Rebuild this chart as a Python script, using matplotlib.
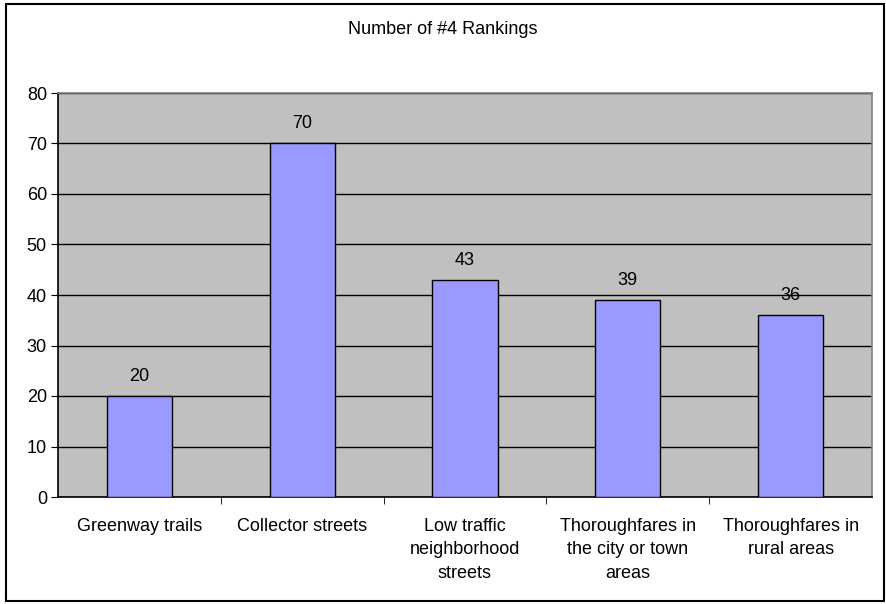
import numpy as np
import matplotlib.pyplot as plt

plt.rcParams['font.family'] = ['Liberation Sans', 'DejaVu Sans']

# Datos
categories = ['Greenway trails', 'Collector streets',
              'Low traffic\nneighborhood\nstreets',
              'Thoroughfares in\nthe city or town\nareas',
              'Thoroughfares in\nrural areas']
counts = [20, 70, 43, 39, 36]
title = 'Number of #4 Rankings'

fig = plt.figure(figsize=(8.86, 6.04), dpi=100)
W, H = 886, 604
ax = fig.add_axes([58 / W, 1 - 497 / H, (872 - 58) / W, (497 - 93) / H])

# borde de la figura
fig.patches.append(plt.Rectangle((6 / W, 3 / H), (884 - 6) / W, (600 - 3) / H,
                                 transform=fig.transFigure, fill=False,
                                 edgecolor='black', linewidth=1.5))

x = np.arange(len(categories))
ax.set_facecolor('#C0C0C0')
ax.bar(x, counts, width=0.4, color='#9999FF', edgecolor='black', linewidth=1, zorder=3)

for xi, v in zip(x, counts):
    ax.annotate(str(v), (xi, v), xytext=(0, 8), textcoords='offset points',
                ha='center', va='bottom', fontsize=13)

ax.set_xlim(-0.5, len(categories) - 0.5)
ax.set_ylim(0, 80)
ax.set_yticks(np.arange(0, 81, 10))
ax.yaxis.grid(True, color='black', linewidth=1, zorder=1)
ax.set_axisbelow(True)

ax.set_xticks(x)
ax.set_xticklabels(categories, fontsize=13, linespacing=1.5, va='top')
ax.tick_params(axis='x', length=0, pad=15)
ax.set_xticks(np.arange(0.5, len(categories) - 0.5), minor=True)
ax.tick_params(axis='x', which='minor', length=5, direction='out', color='black')
ax.tick_params(axis='y', labelsize=13, length=5, direction='out', pad=3)

ax.spines['top'].set_color('#808080')
ax.spines['right'].set_color('#808080')
ax.spines['left'].set_color('black')
ax.spines['bottom'].set_color('black')
for s in ax.spines.values():
    s.set_linewidth(1.2)

fig.text(0.5, 1 - 30 / H, title, ha='center', va='center', fontsize=13)

plt.savefig('out.png', dpi=100)
